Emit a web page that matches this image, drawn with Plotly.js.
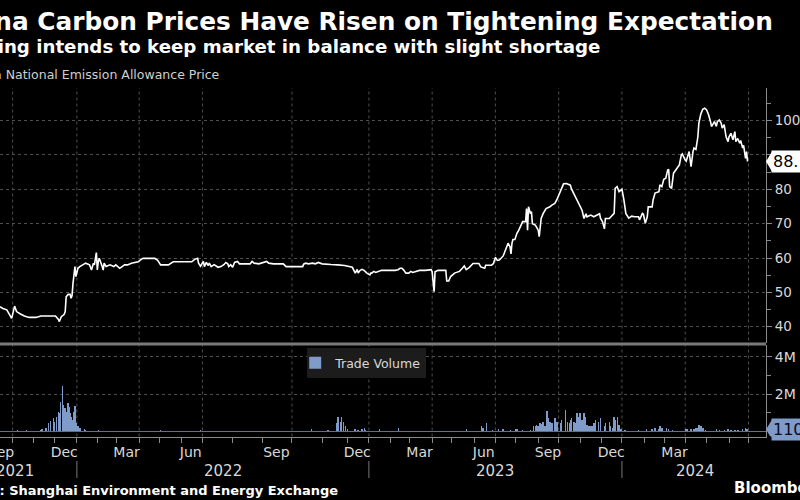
<!DOCTYPE html>
<html>
<head>
<meta charset="utf-8">
<script src="https://cdn.plot.ly/plotly-3.0.1.min.js"></script>
<style>
html,body{margin:0;padding:0;background:#000;}
#chart{width:800px;height:500px;}
</style>
</head>
<body>
<div id="chart"></div>
<script>
// ---------- DATA ----------
const priceDates = [
'2021-09-14','2021-09-17','2021-09-23','2021-09-28','2021-09-30','2021-10-05','2021-10-07','2021-10-13','2021-10-19','2021-10-26',
'2021-11-04','2021-11-11','2021-11-18','2021-11-29','2021-12-02','2021-12-07','2021-12-08','2021-12-10','2021-12-15','2021-12-16',
'2021-12-17','2021-12-21','2021-12-23','2021-12-24','2021-12-27','2021-12-28','2021-12-29','2021-12-30','2021-12-31','2022-01-04',
'2022-01-06','2022-01-11','2022-01-14','2022-01-20','2022-01-24','2022-01-26','2022-01-27','2022-01-31','2022-02-01','2022-02-02',
'2022-02-03','2022-02-08','2022-02-09','2022-02-10','2022-02-14','2022-02-18','2022-02-24','2022-02-28','2022-03-04','2022-03-11',
'2022-03-16','2022-03-22','2022-03-31','2022-04-05','2022-04-07','2022-04-25','2022-04-28','2022-05-03','2022-05-13','2022-05-20',
'2022-06-16','2022-06-21','2022-06-24','2022-06-27','2022-06-29','2022-07-02','2022-07-03','2022-07-05','2022-07-07','2022-07-08',
'2022-07-10','2022-07-13','2022-07-17','2022-07-20','2022-07-23','2022-07-25','2022-07-27','2022-07-28','2022-07-30','2022-08-01',
'2022-08-03','2022-08-06','2022-08-08','2022-08-19','2022-08-21','2022-08-23','2022-08-28','2022-09-05','2022-09-07','2022-09-12',
'2022-09-22','2022-09-25','2022-10-12','2022-10-13','2022-10-15','2022-10-18','2022-10-22','2022-10-25','2022-10-28','2022-11-01',
'2022-11-07','2022-11-10','2022-11-17','2022-11-28','2022-12-08','2022-12-09','2022-12-13','2022-12-15','2022-12-16','2022-12-20',
'2022-12-22','2022-12-26','2022-12-27','2022-12-29','2023-01-03','2023-01-04','2023-01-05','2023-01-09','2023-01-11','2023-01-16',
'2023-01-19','2023-02-08','2023-02-13','2023-02-15','2023-02-17','2023-02-21','2023-02-23','2023-02-28','2023-03-02','2023-03-06',
'2023-03-10','2023-03-15','2023-03-23','2023-03-31','2023-04-03','2023-04-05','2023-04-06','2023-04-11','2023-04-21','2023-04-24',
'2023-04-26','2023-04-28','2023-05-04','2023-05-11','2023-05-16','2023-05-18','2023-05-22','2023-05-25','2023-05-31','2023-06-08',
'2023-06-12','2023-06-16','2023-06-19','2023-06-27','2023-06-29','2023-07-03','2023-07-05','2023-07-07','2023-07-13','2023-07-14',
'2023-07-18','2023-07-20','2023-07-24','2023-07-25','2023-07-26','2023-07-27','2023-07-31','2023-08-02','2023-08-04','2023-08-08',
'2023-08-10','2023-08-15','2023-08-16','2023-08-17','2023-08-18','2023-08-22','2023-08-23','2023-08-24','2023-08-29','2023-09-01',
'2023-09-04','2023-09-06','2023-09-08','2023-09-13','2023-09-19','2023-09-21','2023-09-26','2023-09-28','2023-10-04','2023-10-09',
'2023-10-12','2023-10-18','2023-10-19','2023-10-25','2023-10-31','2023-11-03','2023-11-07','2023-11-09','2023-11-10','2023-11-16',
'2023-11-21','2023-11-27','2023-11-29','2023-11-30','2023-12-04','2023-12-06','2023-12-07','2023-12-13','2023-12-18','2023-12-20',
'2023-12-21','2023-12-25','2023-12-27','2024-01-01','2024-01-03','2024-01-05','2024-01-10','2024-01-15','2024-01-18','2024-01-24',
'2024-01-25','2024-01-30','2024-01-31','2024-02-02','2024-02-06','2024-02-07','2024-02-13','2024-02-14','2024-02-16','2024-02-22',
'2024-02-23','2024-02-27','2024-02-29','2024-03-04','2024-03-06','2024-03-07','2024-03-08','2024-03-12','2024-03-14','2024-03-19',
'2024-03-22','2024-03-26','2024-03-27','2024-04-01','2024-04-02','2024-04-05','2024-04-09','2024-04-11','2024-04-12','2024-04-16',
'2024-04-18','2024-04-19','2024-04-23','2024-04-25','2024-04-29','2024-05-01','2024-05-03','2024-05-07','2024-05-08','2024-05-10',
'2024-05-13','2024-05-15','2024-05-16','2024-05-20','2024-05-22','2024-05-23','2024-05-27','2024-05-29','2024-05-31','2024-06-03',
'2024-06-05','2024-06-07','2024-06-11','2024-06-12','2024-06-14','2024-06-18','2024-06-19','2024-06-21','2024-06-24','2024-06-26',
'2024-06-27','2024-06-28'];
const priceValues = [
45.8,45.3,44.9,43.6,42.4,46.0,44.4,43.7,43.1,42.7,
42.7,43.1,43.1,42.9,43.1,42.1,41.5,42.9,43.6,44.4,
48.7,49.4,49.4,48.3,49.0,52.6,56.5,57.5,54.6,57.0,
57.5,58.0,58.5,58.0,56.5,58.5,58.0,61.6,56.5,58.9,
59.9,57.5,56.5,58.5,57.5,58.0,57.5,58.0,57.0,58.0,
58.0,58.5,58.9,59.6,59.9,59.9,59.3,58.0,58.0,58.9,
58.9,59.6,59.9,58.5,57.6,59.0,57.5,58.7,57.8,58.5,
57.5,58.05,57.3,57.5,58.05,58.7,58.3,57.5,58.05,57.3,
58.7,59.0,58.3,58.3,59.0,58.5,58.3,59.0,58.5,58.3,
58.3,57.5,57.5,58.2,58.5,58.3,58.5,58.3,58.7,58.3,
58.3,58.1,58.0,57.8,57.3,56.6,55.6,56.7,55.6,56.4,
56.7,56.4,56.1,55.6,55.1,55.6,55.6,56.1,55.8,56.1,
56.4,56.4,56.6,57.0,57.0,56.4,55.6,55.6,56.1,55.8,
56.1,56.4,56.4,56.6,56.0,50.2,56.0,56.4,56.4,53.3,
53.3,54.6,55.6,56.1,57.0,57.7,56.6,57.2,58.4,58.4,
57.4,57.0,57.9,57.9,58.4,60.2,59.3,59.4,60.6,61.4,
63.3,64.3,63.3,61.2,64.3,65.4,65.4,67.1,68.1,69.6,
70.6,70.6,74.4,68.1,74.9,72.9,73.5,70.0,69.6,68.1,
66.2,71.5,72.9,74.4,74.9,75.4,75.9,76.9,79.7,81.6,
81.7,81.2,80.2,77.8,75.9,73.9,71.5,72.9,72.0,72.5,
72.0,72.5,72.9,71.5,70.6,68.5,71.5,71.5,72.5,73.0,
80.3,80.8,79.3,80.0,76.9,73.0,71.6,72.2,72.0,72.0,
71.1,73.0,72.8,70.1,72.0,74.9,74.9,76.9,78.9,79.3,
81.3,80.8,82.9,83.2,85.6,85.8,80.8,80.3,84.7,86.1,
87.1,90.0,90.3,88.5,88.2,91.0,86.6,91.0,92.0,91.6,
95.3,99.2,101.9,103.3,103.6,103.1,101.7,99.7,98.3,99.2,
99.7,98.3,99.7,100.2,99.2,97.8,98.8,95.3,93.9,95.3,
96.3,94.4,96.8,93.9,94.8,93.4,94.2,92.0,92.8,89.0,
91.0,88.1];

// Trade volume, millions
const volumeDates = [
'2021-09-16','2021-09-28','2021-10-08','2021-10-18','2021-10-21','2021-10-26','2021-10-28','2021-11-04','2021-11-11','2021-11-12',
'2021-11-18','2021-11-22','2021-11-23','2021-11-25','2021-11-29','2021-11-30','2021-12-01','2021-12-03','2021-12-06','2021-12-07',
'2021-12-08','2021-12-09','2021-12-13','2021-12-14','2021-12-15','2021-12-16','2021-12-17','2021-12-21','2021-12-22','2021-12-23',
'2021-12-24','2021-12-27','2021-12-29','2021-12-30','2021-12-31','2022-01-04','2022-01-05','2022-01-06','2022-01-13','2022-01-14',
'2022-02-02','2022-02-22','2022-03-24','2022-05-03','2022-05-25','2022-06-29','2022-07-04','2022-07-25','2022-08-01','2022-08-16',
'2022-10-21','2022-10-31','2022-11-07','2022-11-16','2022-11-17','2022-11-22','2022-11-23','2022-11-25','2022-11-29','2022-12-01',
'2022-12-13','2022-12-16','2022-12-22','2022-12-26','2022-12-27','2023-01-16','2023-01-17','2023-02-13','2023-04-06','2023-05-05',
'2023-05-22','2023-06-12','2023-06-14','2023-06-19','2023-06-20','2023-06-28','2023-07-06','2023-07-13','2023-07-24','2023-07-31',
'2023-08-02','2023-08-10','2023-08-22','2023-08-25','2023-08-29','2023-08-30','2023-09-01','2023-09-05','2023-09-07','2023-09-08',
'2023-09-12','2023-09-14','2023-09-15','2023-09-19','2023-09-21','2023-09-25','2023-09-26','2023-09-28','2023-10-02','2023-10-04',
'2023-10-05','2023-10-09','2023-10-11','2023-10-13','2023-10-17','2023-10-18','2023-10-19','2023-10-24','2023-10-25','2023-10-27',
'2023-10-31','2023-11-01','2023-11-03','2023-11-07','2023-11-08','2023-11-10','2023-11-14','2023-11-16','2023-11-17','2023-11-21',
'2023-11-23','2023-11-27','2023-11-28','2023-11-30','2023-12-04','2023-12-06','2023-12-07','2023-12-11','2023-12-13','2023-12-14',
'2023-12-18','2023-12-20','2023-12-21','2023-12-25','2023-12-27','2023-12-29','2024-01-04','2024-01-15','2024-01-24','2024-01-29',
'2024-02-05','2024-02-13','2024-02-16','2024-02-22','2024-02-23','2024-02-27','2024-03-04','2024-03-07','2024-03-13','2024-03-18',
'2024-03-25','2024-04-01','2024-04-03','2024-04-09','2024-04-12','2024-04-16','2024-04-18','2024-04-19','2024-04-23','2024-04-25',
'2024-04-30','2024-05-15','2024-05-20','2024-05-27','2024-05-31','2024-06-05','2024-06-11','2024-06-14','2024-06-21','2024-06-26',
'2024-06-27','2024-06-28'];
const volumeValues = [
0.05,0.05,0.09,0.07,0.07,0.05,0.05,0.05,0.09,0.14,
0.21,0.32,0.45,0.57,0.68,0.71,0.53,0.80,0.62,1.07,
0.98,1.60,2.44,1.43,1.07,1.25,1.07,1.52,1.34,0.98,
0.80,0.62,1.07,1.39,0.45,0.27,0.14,0.21,0.14,0.07,
0.07,0.05,0.05,0.09,0.05,0.09,0.05,0.05,0.05,0.05,
0.14,0.05,0.07,0.45,0.80,0.53,0.80,0.53,0.27,0.14,
0.14,0.09,0.11,0.21,0.09,0.18,0.14,0.21,0.05,0.05,
0.11,0.32,0.18,0.39,0.45,0.07,0.11,0.14,0.07,0.14,
0.11,0.07,0.09,0.27,0.32,0.36,0.27,0.45,0.39,0.53,
0.27,1.11,0.71,0.53,0.45,0.62,0.71,0.53,0.80,0.45,
0.62,0.36,1.16,0.53,0.45,0.62,0.71,0.53,0.45,0.98,
0.80,0.98,0.62,0.98,0.80,0.36,0.27,0.32,0.27,0.45,
0.62,0.80,0.53,0.71,0.36,0.27,0.45,0.36,0.53,0.27,
0.18,0.80,0.62,0.80,0.36,0.14,0.09,0.07,0.09,0.05,
0.11,0.14,0.21,0.14,0.27,0.18,0.21,0.14,0.09,0.11,
0.07,0.11,0.14,0.11,0.14,0.18,0.21,0.36,0.27,0.18,
0.09,0.11,0.07,0.09,0.11,0.07,0.09,0.07,0.11,0.21,
0.14,0.11];

const monthTickDates = ['2021-09-15','2021-12-15','2022-03-15','2022-06-15','2022-09-15','2022-12-15',
                        '2023-03-15','2023-06-15','2023-09-15','2023-12-15','2024-03-15','2024-06-15'];
const monthTickLabels = ['Sep','Dec','Mar','Jun','Sep','Dec','Mar','Jun','Sep','Dec','Mar','Jun'];
const quarterStarts = ['2021-10-01','2022-01-01','2022-04-01','2022-07-01','2022-10-01','2023-01-01',
                       '2023-04-01','2023-07-01','2023-10-01','2024-01-01','2024-04-01','2024-07-01'];
const yearLabels = ['2021','2022','2023','2024'];
const yearLabelDates = ['2021-10-05','2022-07-22','2023-07-01','2024-04-15'];
const yearStarts = ['2022-01-01','2023-01-01','2024-01-01'];
const priceTickVals = [40, 50, 60, 70, 80, 90, 100];
const priceTickText = ['40', '50', '60', '70', '80', '', '100'];
const volumeTickVals = [2, 4];
const volumeTickText = ['2M', '4M'];
const xStart = '2021-09-14', xEnd = '2024-07-25';
const lastVolumeText = '110K';

// ---------- axis helpers ----------
// The source plots trading observations: weekends are skipped except
// Jul-mid Nov 2022 where the series carried calendar days.
const weekendBreaks = [];
for (let t = Date.UTC(2021, 6, 1); t < Date.UTC(2024, 8, 1); t += 86400000) {
  const d = new Date(t);
  const wd = d.getUTCDay();
  const iso = d.toISOString().slice(0, 10);
  if ((wd === 0 || wd === 6) && !(iso >= '2022-07-01' && iso <= '2022-11-13')) weekendBreaks.push(iso);
}
const rb = [{values: weekendBreaks, dvalue: 86400000}];

const FONT = 'DejaVu Sans, sans-serif';
const GRID = '#4e4e4e';
const AXIS = '#8a8a8a';
const TXT = '#d9d9d9';
const BAR = '#7f9bc9';

const lastPrice = priceValues[priceValues.length - 1];
const lastVolume = volumeValues[volumeValues.length - 1];

const traces = [
  {type: 'scatter', mode: 'lines', x: priceDates, y: priceValues, xaxis: 'x2', yaxis: 'y2',
   name: 'China National Emission Allowance Price', showlegend: false,
   line: {color: '#ffffff', width: 1.6}, hoverinfo: 'skip'},
  {type: 'bar', x: volumeDates, y: volumeValues, xaxis: 'x', yaxis: 'y', name: 'Trade Volume',
   marker: {color: BAR, line: {width: 0}}, width: 86400000 * 1.6, hoverinfo: 'skip'}
];

const shapes = [];
quarterStarts.forEach(q => shapes.push({type: 'line', xref: 'x', x0: q, x1: q, yref: 'paper', y0: 0.127, y1: 0.824,
  line: {color: GRID, width: 1, dash: 'dot'}, layer: 'below'}));
yearStarts.forEach(q => shapes.push({type: 'line', xref: 'x', x0: q, x1: q, yref: 'paper', y0: 0.044, y1: 0.078,
  line: {color: '#777', width: 1}}));
shapes.push({type: 'line', xref: 'paper', x0: 0, x1: 0.9575, yref: 'paper', y0: 0.312, y1: 0.312,
  line: {color: '#7a7a7a', width: 3}, layer: 'above'});
shapes.push({type: 'path', xref: 'paper', xsizemode: 'pixel', xanchor: 0.9575, yref: 'y2', ysizemode: 'pixel', yanchor: lastPrice,
  path: 'M0,0 L6,-10 L6,10 Z', fillcolor: '#ffffff', line: {width: 0}, layer: 'above'});
shapes.push({type: 'path', xref: 'paper', xsizemode: 'pixel', xanchor: 0.9575, yref: 'y', ysizemode: 'pixel', yanchor: lastVolume,
  path: 'M0,0 L6,-10 L6,10 Z', fillcolor: BAR, line: {width: 0}, layer: 'above'});

const annotations = [
  {text: '<b>China Carbon Prices Have Risen on Tightening Expectation</b>', xref: 'paper', yref: 'paper',
   x: 0.969, y: 0.958, xanchor: 'right', yanchor: 'middle', showarrow: false,
   font: {family: FONT, size: 24.8, color: '#ffffff'}},
  {text: '<b>Beijing intends to keep market in balance with slight shortage</b>', xref: 'paper', yref: 'paper',
   x: 0.7525, y: 0.906, xanchor: 'right', yanchor: 'middle', showarrow: false,
   font: {family: FONT, size: 18.2, color: '#ffffff'}},
  {text: 'China National Emission Allowance Price', xref: 'paper', yref: 'paper',
   x: 0.2775, y: 0.852, xanchor: 'right', yanchor: 'middle', showarrow: false,
   font: {family: FONT, size: 12.5, color: '#cfcfcf'}},
  {text: '<b>Source: Shanghai Environment and Energy Exchange</b>', xref: 'paper', yref: 'paper',
   x: 0.425, y: 0.02, xanchor: 'right', yanchor: 'middle', showarrow: false,
   font: {family: FONT, size: 13, color: '#ffffff'}},
  {text: '<b>Bloomberg</b>', xref: 'paper', yref: 'paper',
   x: 0.915, y: 0.024, xanchor: 'left', yanchor: 'middle', showarrow: false,
   font: {family: FONT, size: 15, color: '#ffffff'}},
  {text: String(lastPrice), xref: 'paper', yref: 'y2', x: 0.964, y: lastPrice, xanchor: 'left', yanchor: 'middle',
   showarrow: false, bgcolor: '#ffffff', borderpad: 1, font: {family: FONT, size: 16, color: '#000000'}},
  {text: lastVolumeText, xref: 'paper', yref: 'y', x: 0.964, y: lastVolume, xanchor: 'left', yanchor: 'middle',
   showarrow: false, bgcolor: BAR, borderpad: 1, font: {family: FONT, size: 16, color: '#0b0b14'}}
];
yearLabels.forEach((t, i) => annotations.push({text: t, xref: 'x', yref: 'paper', x: yearLabelDates[i], y: 0.058,
  xanchor: 'center', yanchor: 'middle', showarrow: false, font: {family: FONT, size: 15, color: TXT}}));

const layout = {
  width: 800, height: 500,
  margin: {l: 0, r: 0, t: 0, b: 0, pad: 0},
  paper_bgcolor: '#000000', plot_bgcolor: '#000000',
  font: {family: FONT, color: TXT, size: 14},
  showlegend: true,
  legend: {x: 0.384, y: 0.304, xanchor: 'left', yanchor: 'top', bgcolor: '#1c1c1c', borderwidth: 0,
           font: {family: FONT, size: 12.5, color: TXT}, itemwidth: 30, indentation: -12},
  bargap: 0,
  xaxis: {type: 'date', domain: [0, 0.9575], anchor: 'y', range: [xStart, xEnd], rangebreaks: rb,
          tickmode: 'array', tickvals: monthTickDates, ticktext: monthTickLabels, ticks: '',
          ticklabelstandoff: 3, ticklabeloverflow: 'allow', tickfont: {size: 14, color: TXT},
          showgrid: false, zeroline: false, showline: true, linecolor: AXIS, linewidth: 1,
          minor: {dtick: 'M1', tick0: '2021-01-01', ticks: 'outside', ticklen: 5, tickcolor: AXIS, showgrid: false}},
  xaxis2: {type: 'date', domain: [0, 0.9575], anchor: 'y2', matches: 'x', rangebreaks: rb,
           showticklabels: false, ticks: '', showgrid: false, zeroline: false, showline: false},
  yaxis: {domain: [0.127, 0.31], range: [-0.27, 4.64], side: 'right', anchor: 'x',
          tickmode: 'array', tickvals: volumeTickVals, ticktext: volumeTickText, ticks: 'outside', ticklen: 5, tickcolor: AXIS,
          tickfont: {size: 14, color: TXT}, showline: true, linecolor: AXIS, linewidth: 1,
          showgrid: true, gridcolor: GRID, griddash: 'dot', zeroline: true, zerolinecolor: '#5f6f8c', zerolinewidth: 1,
          minor: {tickmode: 'array', tickvals: [1, 3], ticks: 'outside', ticklen: 4, tickcolor: AXIS, showgrid: false}},
  yaxis2: {domain: [0.314, 0.824], range: [35.25, 109.5], side: 'right', anchor: 'x2',
           tickmode: 'array', tickvals: priceTickVals, ticktext: priceTickText, ticks: 'outside', ticklen: 5, tickcolor: AXIS,
           tickfont: {size: 13.5, color: TXT}, showline: true, linecolor: AXIS, linewidth: 1,
           showgrid: true, gridcolor: GRID, griddash: 'dot', zeroline: false,
           minor: {dtick: 5, tick0: 0, ticks: 'outside', ticklen: 4, tickcolor: AXIS, showgrid: false}},
  shapes: shapes,
  annotations: annotations
};

Plotly.newPlot('chart', traces, layout, {staticPlot: true, displayModeBar: false});
</script>
</body>
</html>
